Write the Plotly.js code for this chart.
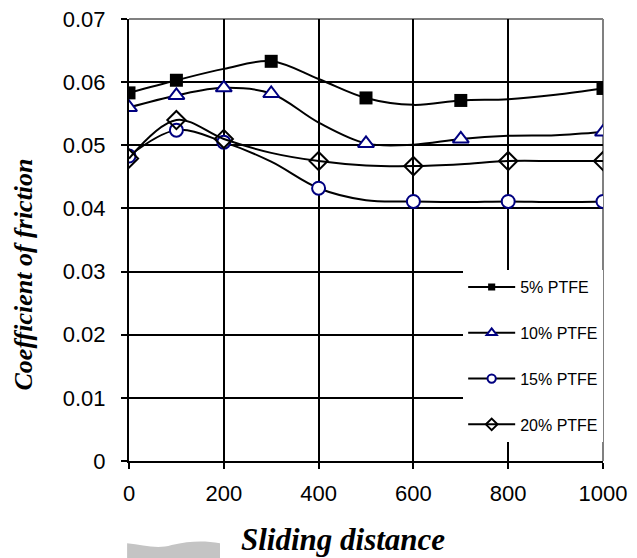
<!DOCTYPE html>
<html>
<head>
<meta charset="utf-8">
<script src="https://cdn.plot.ly/plotly-3.0.1.min.js"></script>
<style>html,body{margin:0;padding:0;background:#fff;}#chart{width:637px;height:558px;}</style>
</head>
<body>
<div id="chart"></div>
<script>
// Sliding distance positions of the smoothed curves
const distance = [0, 100, 200, 300, 400, 500, 600, 700, 800, 900, 1000];
// Coefficient of friction (curve values)
const ptfe5  = [0.0583, 0.0603, 0.0621, 0.0633, 0.0605, 0.0575, 0.0564, 0.0571, 0.0573, 0.0580, 0.0590];
const ptfe10 = [0.0560, 0.0579, 0.0591, 0.0582, 0.0536, 0.0503, 0.0501, 0.0510, 0.0515, 0.0516, 0.0521];
const ptfe15 = [0.0483, 0.0524, 0.0505, 0.0474, 0.0432, 0.0413, 0.0411, 0.0410, 0.0411, 0.0410, 0.0411];
const ptfe20 = [0.0479, 0.0540, 0.0510, 0.0488, 0.0475, 0.0468, 0.0467, 0.0470, 0.0475, 0.0475, 0.0475];
// which distances carry a marker (1 = marker shown)
const marks5  = [1, 1, 0, 1, 0, 1, 0, 1, 0, 0, 1];
const marks10 = [1, 1, 1, 1, 0, 1, 0, 1, 0, 0, 1];
const marks15 = [1, 1, 1, 0, 1, 0, 1, 0, 1, 0, 1];
const marks20 = [1, 1, 1, 0, 1, 0, 1, 0, 1, 0, 1];
const seriesNames = ['5% PTFE', '10% PTFE', '15% PTFE', '20% PTFE'];
const yTickVals = [0, 0.01, 0.02, 0.03, 0.04, 0.05, 0.06, 0.07];
const yTickText = ['0', '0.01', '0.02', '0.03', '0.04', '0.05', '0.06', '0.07'];
const xTickVals = [0, 200, 400, 600, 800, 1000];
const xTitle = 'Sliding distance';
const yTitle = 'Coefficient of friction';

function sizes(m, s) { return m.map(v => v ? s : 0); }

const navy = '#000080';
const traces = [
  {x: distance, y: ptfe5, name: seriesNames[0], mode: 'lines+markers', legendgroup: 'a',
   line: {color: '#000', width: 2, shape: 'spline', smoothing: 1},
   marker: {symbol: 'square', size: sizes(marks5, 13), opacity: 1, color: '#000', line: {width: 0}}},
  {x: distance, y: ptfe10, name: seriesNames[1], mode: 'lines+markers', legendgroup: 'b',
   line: {color: '#000', width: 2, shape: 'spline', smoothing: 1},
   marker: {symbol: 'triangle-up', size: sizes(marks10, 14), opacity: 1, color: '#fff', line: {width: 2, color: navy}}},
  {x: distance, y: ptfe15, name: seriesNames[2], mode: 'lines+markers', legendgroup: 'c',
   line: {color: '#000', width: 2, shape: 'spline', smoothing: 1},
   marker: {symbol: 'circle', size: sizes(marks15, 13), opacity: 1, color: '#fff', line: {width: 2, color: navy}}},
  {x: distance, y: ptfe20, name: seriesNames[3], mode: 'lines+markers', legendgroup: 'd',
   line: {color: '#000', width: 2, shape: 'spline', smoothing: 1},
   marker: {symbol: 'diamond-open', size: sizes(marks20, 14), opacity: 1, color: '#000', line: {width: 2, color: '#000'}}}
];

const serif = {family: 'Liberation Serif, Times New Roman, serif', weight: 'bold', style: 'italic', color: '#000'};

const layout = {
  width: 637, height: 558,
  margin: {l: 129, r: 34, t: 19, b: 97},
  paper_bgcolor: '#fff', plot_bgcolor: '#fff',
  showlegend: true,
  font: {family: 'Liberation Sans, Arial, sans-serif', color: '#000'},
  xaxis: {
    range: [0, 1000], tickvals: xTickVals, ticktext: xTickVals.map(String),
    showgrid: true, gridcolor: '#000', gridwidth: 2,
    showline: true, linecolor: '#000', linewidth: 2,
    ticks: 'outside', ticklen: 6, tickwidth: 2, tickcolor: '#000',
    ticklabelstandoff: 6,
    tickfont: {size: 22, family: 'Liberation Sans, Arial, sans-serif'},
    zeroline: false, fixedrange: true
  },
  yaxis: {
    range: [0, 0.07], tickvals: yTickVals, ticktext: yTickText,
    showgrid: true, gridcolor: '#000', gridwidth: 2,
    showline: true, linecolor: '#000', linewidth: 2,
    ticks: 'outside', ticklen: 6, tickwidth: 2, tickcolor: '#000',
    ticklabelstandoff: 11,
    tickfont: {size: 22, family: 'Liberation Sans, Arial, sans-serif'},
    zeroline: false, fixedrange: true
  },
  legend: {
    x: 0.705, y: 0.432, xanchor: 'left', yanchor: 'top',
    bgcolor: '#fff', borderwidth: 0, itemwidth: 47,
    font: {size: 16, family: 'Liberation Sans, Arial, sans-serif'},
    traceorder: 'grouped', tracegroupgap: 22
  },
  annotations: [
    {text: xTitle, xref: 'paper', yref: 'paper', x: 0.451, y: -0.177,
     xanchor: 'center', yanchor: 'middle', showarrow: false,
     font: Object.assign({size: 31}, serif)},
    {text: yTitle, xref: 'paper', yref: 'paper', x: -0.2236, y: 0.422, textangle: -90,
     xanchor: 'center', yanchor: 'middle', showarrow: false,
     font: Object.assign({size: 26}, serif)}
  ],
  shapes: [
    {type: 'line', xref: 'paper', yref: 'paper', x0: 0, x1: 1, y0: 1, y1: 1, layer: 'between',
     line: {color: '#808080', width: 2}},
    {type: 'line', xref: 'paper', yref: 'paper', x0: 1, x1: 1, y0: 0, y1: 1, layer: 'between',
     line: {color: '#808080', width: 2}},
    {type: 'path', xref: 'paper', yref: 'paper', layer: 'below',
     path: 'M -0.004 -0.186 C 0.03 -0.19, 0.06 -0.2, 0.09 -0.19 C 0.13 -0.18, 0.16 -0.18, 0.192 -0.186 L 0.192 -0.22 L -0.004 -0.22 Z',
     fillcolor: '#c4c4c4', line: {width: 0}}
  ]
};

Plotly.newPlot('chart', traces, layout, {displayModeBar: false, staticPlot: true});
</script>
</body>
</html>
